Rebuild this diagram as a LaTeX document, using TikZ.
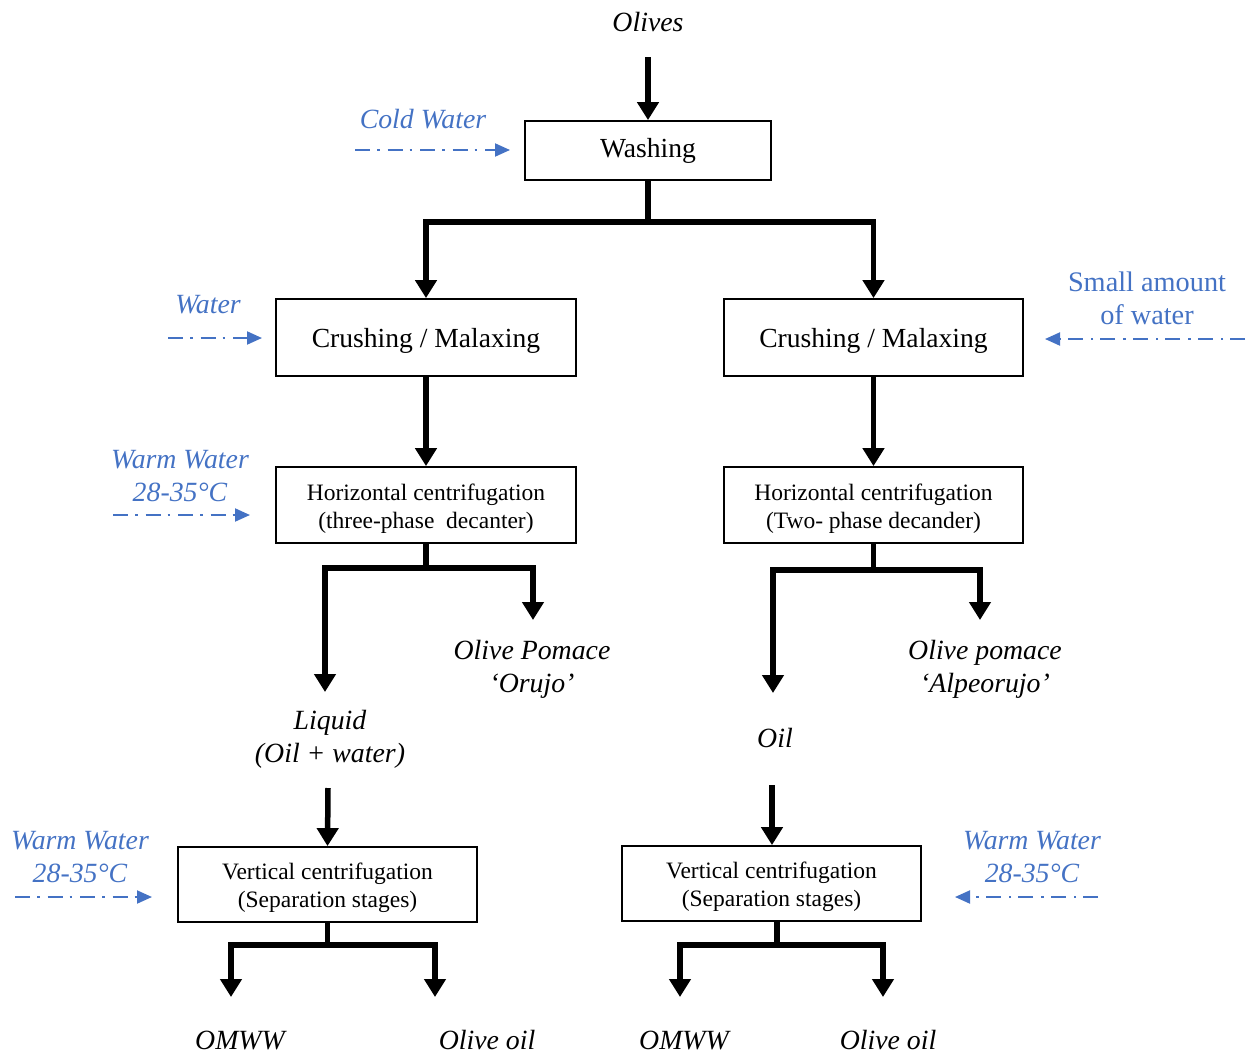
\documentclass[tikz,border=0pt]{standalone}
\usepackage{fontspec}
\setmainfont{Liberation Serif}
\usetikzlibrary{arrows.meta}
\definecolor{wblue}{HTML}{4472C4}
\tikzset{
  box/.style={draw=black, line width=1.8pt, inner sep=0pt},
  blk/.style={line width=5.5pt, line join=miter},
  blkarr/.style={blk, -{Triangle[width=21pt,length=18pt]}},
  warr/.style={wblue, line width=2pt, dash pattern=on 15pt off 7pt on 2.5pt off 8pt, -{Triangle[width=13pt,length=15pt]}},
  lbl/.style={inner sep=0pt, align=center, font=\fontsize{27.8}{33}\selectfont\itshape},
  wlbl/.style={lbl, text=wblue},
  btxt/.style={font=\fontsize{27.6}{32}\selectfont},
  stxt/.style={font=\fontsize{23.5}{28}\selectfont}
}
\newcommand{\shiftdown}[2]{\raisebox{-#1}[\dimexpr\height+#1\relax][\dimexpr\depth-#1\relax]{#2}}
\newcommand{\twoline}[3]{\shiftdown{#1}{\begin{tabular}{@{}c@{}}#2\\#3\end{tabular}}}
\begin{document}
\begin{tikzpicture}[x=1pt,y=-1pt]
\useasboundingbox (0,0) rectangle (1251,1055);
% boxes
\node[box,btxt,minimum width=246pt,minimum height=59pt] (wash) at (648,150.5) {Washing};
\node[box,btxt,minimum width=300pt,minimum height=77pt] (crl) at (426,337.5) {\shiftdown{1.7pt}{Crushing / Malaxing}};
\node[box,btxt,minimum width=299pt,minimum height=77pt] (crr) at (873.5,337.5) {\shiftdown{1.7pt}{Crushing / Malaxing}};
\node[box,stxt,minimum width=300pt,minimum height=76pt] (hcl) at (426,505) {\twoline{2pt}{Horizontal centrifugation}{(three-phase\ \ decanter)}};
\node[box,stxt,minimum width=299pt,minimum height=76pt] (hcr) at (873.5,505) {\twoline{2pt}{Horizontal centrifugation}{(Two- phase decander)}};
\node[box,stxt,minimum width=299pt,minimum height=75pt] (vcl) at (327.5,884.5) {\twoline{1.5pt}{Vertical centrifugation}{(Separation stages)}};
\node[box,stxt,minimum width=299pt,minimum height=75pt] (vcr) at (771.5,883.5) {\twoline{1.5pt}{Vertical centrifugation}{(Separation stages)}};
% black labels
\node[lbl] (olives) at (648,22) {Olives};
\node[lbl] (pomL) at (532,669) {Olive Pomace\\‘Orujo’};
\node[lbl] (liq) at (330,739) {Liquid\\(Oil + water)};
\node[lbl] (pomR) at (985,669) {Olive pomace\\‘Alpeorujo’};
\node[lbl] (oil) at (775,738) {Oil};
\node[lbl] (omwwL) at (240,1040) {OMWW};
\node[lbl] (ooL) at (487,1040) {Olive oil};
\node[lbl] (omwwR) at (684,1040) {OMWW};
\node[lbl] (ooR) at (888,1040) {Olive oil};
% blue labels
\node[wlbl] (cold) at (423,119) {Cold Water};
\node[wlbl] (wat) at (208,305) {Water};
\node[inner sep=0pt, align=center, text=wblue, font=\fontsize{28.3}{33}\selectfont] (small) at (1147,298) {Small amount\\of water};
\node[wlbl] (ww1) at (180,476) {Warm Water\\28-35°C};
\node[wlbl] (ww2) at (80,857) {Warm Water\\28-35°C};
\node[wlbl] (ww3) at (1032,857) {Warm Water\\28-35°C};
% coordinates
\coordinate (o1) at (648,57);
\coordinate (j1) at (648,222);
\coordinate (j2) at (426,568);
\coordinate (e1) at (325,692);
\coordinate (e2) at (533,620);
\coordinate (j3) at (873.5,570);
\coordinate (e3) at (773,693);
\coordinate (e4) at (980,620);
\coordinate (s1) at (328,788);
\coordinate (s2) at (772,785);
\coordinate (j4) at (327.5,945);
\coordinate (e5) at (231,997);
\coordinate (e6) at (435,997);
\coordinate (j5) at (777,945);
\coordinate (e7) at (680,997);
\coordinate (e8) at (883,997);
% black connectors
\draw[blkarr] (o1) -- (wash.north);
\draw[blk] (wash.south) -- (j1);
\draw[blkarr] (j1) -| (crl.north);
\draw[blkarr] (j1) -| (crr.north);
\draw[blkarr] (crl.south) -- (hcl.north);
\draw[blkarr] (crr.south) -- (hcr.north);
\draw[blk] (hcl.south) -- (j2);
\draw[blkarr] (j2) -| (e1);
\draw[blkarr] (j2) -| (e2);
\draw[blk] (hcr.south) -- (j3);
\draw[blkarr] (j3) -| (e3);
\draw[blkarr] (j3) -| (e4);
\draw[blkarr] (s1) -- (vcl.north);
\draw[blkarr] (s2) -- (s2 |- vcr.north);
\draw[blk] (vcl.south) -- (j4);
\draw[blkarr] (j4) -| (e5);
\draw[blkarr] (j4) -| (e6);
\draw[blk] (j5 |- vcr.south) -- (j5);
\draw[blkarr] (j5) -| (e7);
\draw[blkarr] (j5) -| (e8);
% blue connectors
\coordinate (b1s) at (355,150); \coordinate (b1e) at (510,150);
\coordinate (b2s) at (168,338); \coordinate (b2e) at (262,338);
\coordinate (b3s) at (1245,339); \coordinate (b3e) at (1045,339);
\coordinate (b4s) at (113,515); \coordinate (b4e) at (250,515);
\coordinate (b5s) at (15,897); \coordinate (b5e) at (152,897);
\coordinate (b6s) at (1098,897); \coordinate (b6e) at (955,897);
\draw[warr] (b1s) -- (b1e);
\draw[warr] (b2s) -- (b2e);
\draw[warr] (b3s) -- (b3e);
\draw[warr] (b4s) -- (b4e);
\draw[warr] (b5s) -- (b5e);
\draw[warr] (b6s) -- (b6e);
\end{tikzpicture}
\end{document}
